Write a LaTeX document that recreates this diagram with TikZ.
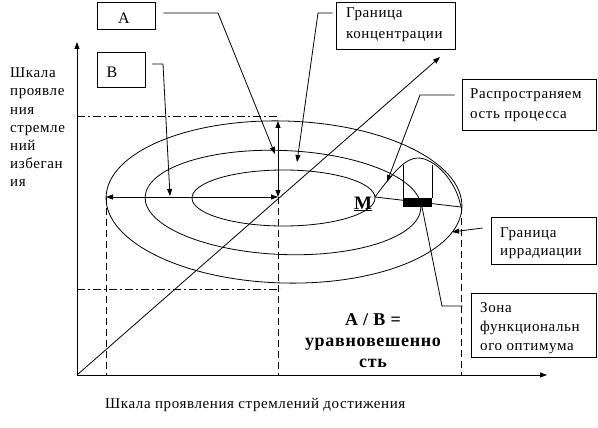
\documentclass[tikz,border=0pt]{standalone}
\usepackage{fontspec}
\setmainfont{Liberation Serif}[LetterSpace=4.0]
\usetikzlibrary{arrows.meta,calc}
\begin{document}
\begin{tikzpicture}[x=1pt,y=-1pt,
  lbl/.style={inner sep=0pt, anchor=base west, font=\fontsize{15}{18}\selectfont},
  blbl/.style={inner sep=0pt, anchor=base, font=\fontsize{18}{21}\selectfont\bfseries},
  box/.style={draw, line width=0.8pt, inner sep=0pt},
  ln/.style={line width=0.8pt},
  tip/.style={-{Triangle[length=7pt,width=5pt]}},
  dtip/.style={{Triangle[length=7pt,width=5pt]}-{Triangle[length=7pt,width=5pt]}},
  dd/.style={dash pattern=on 8pt off 3pt on 2pt off 3pt, line width=0.7pt},
  dsh/.style={dash pattern=on 7pt off 4pt, line width=0.7pt}]
\useasboundingbox[fill=white] (0,0) rectangle (598,428);

% boxes
\node[box, minimum width=58pt, minimum height=27pt] (boxA) at (126,15.5) {};
\node[box, minimum width=48pt, minimum height=35pt] (boxB) at (121,69.5) {};
\node[box, minimum width=119pt, minimum height=47pt] (boxK) at (395.5,25.5) {};
\node[box, minimum width=134pt, minimum height=51pt] (boxR) at (529,104.5) {};
\node[box, minimum width=105pt, minimum height=47pt] (boxI) at (543.5,240.5) {};
\node[box, minimum width=125pt, minimum height=64pt] (boxZ) at (533.5,325) {};

% box texts
\node[lbl, anchor=center, font=\fontsize{16}{18}\selectfont] (tA) at (124,18) {A};
\node[lbl, anchor=center, font=\fontsize{16}{18}\selectfont] (tB) at (112,72) {B};
\node[lbl] (tK1) at (346,18) {Граница};
\node[lbl] (tK2) at (346,39) {концентрации};
\node[lbl] (tR1) at (470,99) {Распространяем};
\node[lbl] (tR2) at (470,119) {ость процесса};
\node[lbl] (tI1) at (500,237) {Граница};
\node[lbl] (tI2) at (500,255) {иррадиации};
\node[lbl] (tZ1) at (480,312) {Зона};
\node[lbl] (tZ2) at (480,331) {функциональн};
\node[lbl] (tZ3) at (480,350) {ого оптимума};

% axis labels
\node[lbl] (y1) at (10,78) {Шкала};
\node[lbl] (y2) at (10,96) {проявле};
\node[lbl] (y3) at (10,114) {ния};
\node[lbl] (y4) at (10,132) {стремле};
\node[lbl] (y5) at (10,150) {ний};
\node[lbl] (y6) at (10,168) {избеган};
\node[lbl] (y7) at (10,186) {ия};
\node[lbl] (xl) at (105,408) {Шкала проявления стремлений достижения};

% bold texts
\node[blbl] (ab1) at (373,325) {A / B =};
\node[blbl] (ab2) at (373,346) {уравновешенно};
\node[blbl] (ab3) at (373,367) {сть};
\node[inner sep=0pt, anchor=base, font=\fontsize{19}{20}\selectfont\bfseries] (tM) at (363,209) {\underline{M}};

% coordinates
\coordinate (O) at (77,375);
\coordinate (Ytop) at (77,42);
\coordinate (Xend) at (547,375);
\coordinate (Dend) at (440,57);
\coordinate (L) at (106,197);
\coordinate (C) at (278,197);
\coordinate (Ctop) at (278,121);
\coordinate (R) at (461,207);
\coordinate (Mi) at (375,197);
\coordinate (Lb) at (106,375);
\coordinate (Cb) at (278,375);
\coordinate (Rb) at (461,375);

% ellipses
\draw[ln, rotate around={-1.6:(284,202)}] (284,202) ellipse [x radius=178pt, y radius=81pt];
\draw[ln, rotate around={-2.3:(283,202.5)}] (283,202.5) ellipse [x radius=138pt, y radius=52pt];
\draw[ln] (283.5,198) ellipse [x radius=91.5pt, y radius=28pt];

% axes
\draw[ln, tip] (O) -- (Ytop);
\draw[ln, tip] (O) -- (Xend);
\draw[ln, tip] (O) -- (Dend);

% guides
\draw[dsh] (L) -- (Lb);
\draw[dsh] (C) -- (Cb);
\draw[dsh] (R) -- (Rb);
\coordinate (h1a) at (77,116); \coordinate (h1b) at (280,116);
\coordinate (h2a) at (77,289); \coordinate (h2b) at (280,289);
\draw[dd] (h1a) -- (h1b);
\draw[dd] (h2a) -- (h2b);

% double arrows
\draw[ln, dtip] (L) -- (C);
\draw[ln, dtip] (C) -- (Ctop);

% process symbol
\fill (403,198) rectangle (432,207);
\coordinate (u1) at (403,165); \coordinate (u2) at (403,198);
\coordinate (u3) at (432,165); \coordinate (u4) at (432,198);
\draw[ln] (u1) -- (u2);
\draw[ln] (u3) -- (u4);
\draw[ln] (Mi) -- (R);
\draw[ln] (Mi) .. controls (395,170) and (406,158) .. (418,158) .. controls (434,158) and (456,180) .. (R);

% leaders
\coordinate (a1) at (218,13); \coordinate (a2) at (275,154);
\draw[ln, tip] ($(boxA.east)+(8,-2.5)$) -- (a1) -- (a2);
\coordinate (b1) at (163,64); \coordinate (b2) at (170,196);
\draw[ln, tip] ($(boxB.east)+(7,-5.5)$) -- (b1) -- (b2);
\coordinate (k1) at (318,13); \coordinate (k2) at (297,162);
\draw[ln, tip] ($(boxK.west)+(-3,-12.5)$) -- (k1) -- (k2);
\coordinate (r1) at (420,95); \coordinate (r2) at (387,182);
\draw[ln, tip] ($(boxR.west)+(-7,-9.5)$) -- (r1) -- (r2);
\coordinate (i1) at (452,232);
\draw[ln, tip] ($(boxI.west)+(-8,-12.5)$) -- (i1);
\coordinate (z1) at (442,306); \coordinate (z2) at (422,207);
\draw[ln] ($(boxZ.west)+(-8,-19)$) -- (z1) -- (z2);
\end{tikzpicture}
\end{document}
